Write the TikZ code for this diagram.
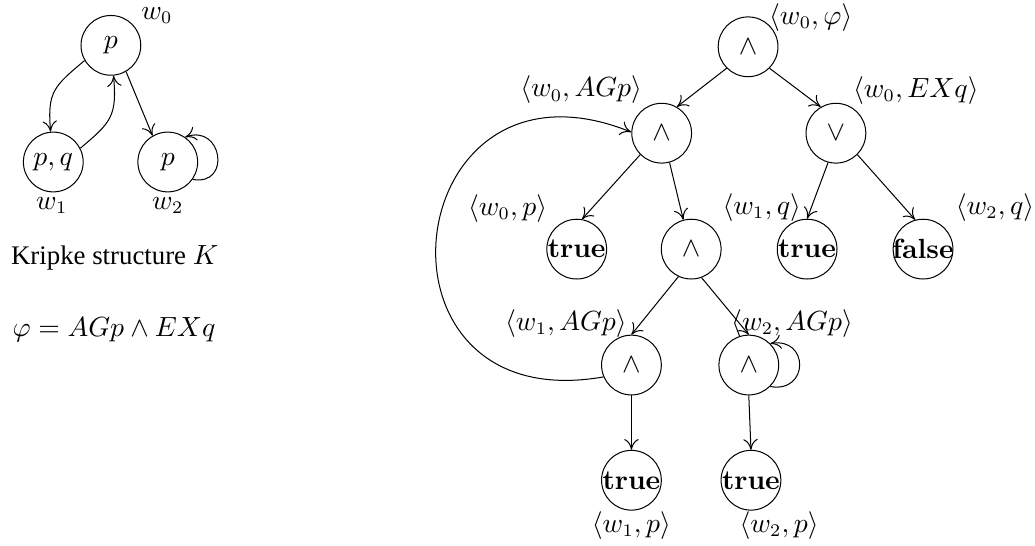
\documentclass[tikz,border=0pt]{standalone}
\usepackage{amsmath,amssymb}
\usepackage[no-math]{fontspec}
\setmainfont{Liberation Serif}
\usepackage{tikz}
\usetikzlibrary{arrows.meta}

\newcommand{\tval}[1]{\makebox[0pt]{$\mathbf{#1}$}}

\begin{document}
\begin{tikzpicture}[
  state/.style={circle, draw, minimum size=0.83cm, inner sep=0pt},
  arrow/.style={-{To[length=1.5mm, width=2mm]}},
  every node/.style={font=\fontsize{10.6}{12.7}\selectfont}
]
\useasboundingbox (0,0) rectangle (14.375,-7.583);

% Kripke structure
\node[state] (w0) at (1.54, -0.63) {$p$};
\node[state] (w1) at (0.74, -2.25) {$p,q$};
\node[state] (w2) at (2.33, -2.25) {$p$};
\node (lw0) at (2.18, -0.21) {$w_0$};
\node (lw1) at (0.72, -2.86) {$w_1$};
\node (lw2) at (2.33, -2.86) {$w_2$};
\node[anchor=base west] (kcap) at (0.03, -3.67) {Kripke structure $K$};
\node[anchor=base west] (phi) at (0.05, -4.68) {$\varphi = AGp \wedge EXq$};

% Computation tree
\node[state] (root) at (10.39, -0.65) {$\wedge$};
\node[state] (agp0) at (9.19, -1.85) {$\wedge$};
\node[state] (exq) at (11.61, -1.85) {$\vee$};
\node[state] (p0) at (8.01, -3.46) {\tval{true}};
\node[state] (conj) at (9.60, -3.46) {$\wedge$};
\node[state] (q1) at (11.21, -3.46) {\tval{true}};
\node[state] (q2) at (12.82, -3.46) {\tval{false}};
\node[state] (agp1) at (8.77, -5.07) {$\wedge$};
\node[state] (agp2) at (10.40, -5.07) {$\wedge$};
\node[state] (p1) at (8.77, -6.67) {\tval{true}};
\node[state] (p2) at (10.43, -6.67) {\tval{true}};

% Tree labels
\node (lroot) at (11.26, -0.24) {$\langle w_0,\varphi\rangle$};
\node (lagp0) at (8.07, -1.25) {$\langle w_0,AGp\rangle$};
\node (lexq) at (12.72, -1.26) {$\langle w_0,EXq\rangle$};
\node (lp0) at (7.05, -2.90) {$\langle w_0,p\rangle$};
\node (lq1) at (10.58, -2.88) {$\langle w_1,q\rangle$};
\node (lq2) at (13.82, -2.88) {$\langle w_2,q\rangle$};
\node (lagp1) at (7.86, -4.49) {$\langle w_1,AGp\rangle$};
\node (lagp2) at (11.00, -4.49) {$\langle w_2,AGp\rangle$};
\node (lp1) at (8.77, -7.30) {$\langle w_1,p\rangle$};
\node (lp2) at (10.82, -7.30) {$\langle w_2,p\rangle$};

% Kripke transitions
\draw[arrow] (w0.210) to[out=220, in=95, looseness=1.3] (w1);
\draw[arrow] (w1.27) to[out=40, in=-85, looseness=1.3] (w0);
\draw[arrow] (w0.-60) -- (w2.120);
\draw[arrow] (w2.-35) to[out=-10, in=20, distance=5.5mm] (w2.55);

% Tree edges
\draw[arrow] (root.225) -- (agp0.60);
\draw[arrow] (root.-45) -- (exq.120);
\draw[arrow] (agp0.225) -- (p0.80);
\draw[arrow] (agp0.-75) -- (conj.105);
\draw[arrow] (exq.-105) -- (q1.90);
\draw[arrow] (exq.-45) -- (q2.105);
\draw[arrow] (conj.-115) -- (agp1.90);
\draw[arrow] (conj.-70) -- (agp2.90);
\draw[arrow] (agp1) -- (p1);
\draw[arrow] (agp2.-90) -- (p2.90);
\draw[arrow] (agp1.203) to[out=190, in=158, distance=3.5cm] (agp0.178);
\draw[arrow] (agp2.-45) to[out=-10, in=10, distance=5.5mm] (agp2.45);

\end{tikzpicture}
\end{document}
